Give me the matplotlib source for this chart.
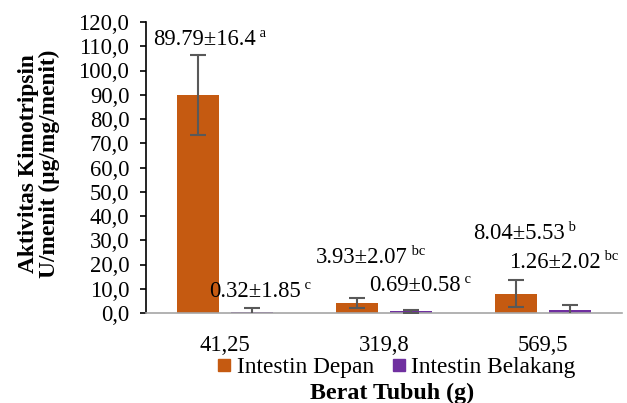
import matplotlib
matplotlib.use("Agg")
import matplotlib.pyplot as plt
import numpy as np
from matplotlib.lines import Line2D

# Data
categories = ["41,25", "319,8", "569,5"]
depan_mean = [89.79, 3.93, 8.04]
depan_sd = [16.4, 2.07, 5.53]
depan_sig = ["a", "bc", "b"]
belakang_mean = [0.32, 0.69, 1.26]
belakang_sd = [1.85, 0.58, 2.02]
belakang_sig = ["c", "c", "bc"]

yticks = np.arange(0, 121, 10)

plt.rcParams["font.family"] = ["Liberation Serif", "DejaVu Serif"]
FS = 16.3

orange = "#C55A11"
purple = "#7030A0"
err_col = "#595959"

fig = plt.figure(figsize=(6.27, 4.03), dpi=100)
ax = fig.add_axes([146 / 627, 1 - 313 / 403, 476 / 627, 291 / 403])

x = np.arange(len(categories))
w = 0.265
off = 0.17

ax.bar(x - off, depan_mean, w, color=orange, zorder=2)
ax.bar(x + off, belakang_mean, w, color=purple, zorder=2)
ax.errorbar(x - off, depan_mean, yerr=depan_sd, fmt="none", ecolor=err_col,
            elinewidth=1.5, capsize=6, capthick=1.5, zorder=3)
ax.errorbar(x + off, belakang_mean, yerr=belakang_sd, fmt="none", ecolor=err_col,
            elinewidth=1.5, capsize=6, capthick=1.5, zorder=3)

ax.set_xlim(-0.5, 2.5)
ax.set_ylim(0, 120)
ax.set_yticks(yticks)
ax.set_yticklabels([f"{v:.1f}".replace(".", ",") for v in yticks], fontsize=FS)
ax.set_xticks(x)
ax.set_xticklabels(categories, fontsize=FS)
ax.tick_params(axis="x", length=0, pad=16)
ax.tick_params(axis="y", length=4, width=1.2, direction="out", pad=8)

for s in ["top", "right"]:
    ax.spines[s].set_visible(False)
ax.spines["left"].set_color("black")
ax.spines["left"].set_linewidth(1.2)
ax.spines["bottom"].set_color("#A6A6A6")
ax.spines["bottom"].set_linewidth(1.2)

# Value labels (left edge x, vertical centre y in data units)
label_pos_depan = [(-0.454, 112.6), (0.573, 22.9), (1.561, 32.6)]
label_pos_belakang = [(-0.100, 8.9), (0.907, 11.3), (1.790, 20.8)]


def value_label(xy, mean, sd, sig):
    t = ax.text(xy[0], xy[1], f"{mean:.2f}±{sd:g}",
                fontsize=FS, ha="left", va="center", zorder=4)
    ax.annotate(" " + sig, xy=(1, 0.8), xycoords=t, fontsize=FS * 0.64,
                ha="left", va="center", zorder=4)


for xy, m, s, g in zip(label_pos_depan, depan_mean, depan_sd, depan_sig):
    value_label(xy, m, s, g)
for xy, m, s, g in zip(label_pos_belakang, belakang_mean, belakang_sd, belakang_sig):
    value_label(xy, m, s, g)

# Axis titles
fig.text(39 / 627, 1 - 164 / 403, "Aktivitas Kimotripsin\nU/menit (µg/mg/menit)",
         rotation=90, ha="center", va="center", fontsize=FS + 0.5, fontweight="bold",
         multialignment="center", linespacing=1.0)
fig.text(392 / 627, 1 - 393 / 403, "Berat Tubuh (g)", ha="center", va="center",
         fontsize=FS + 1, fontweight="bold")

handles = [Line2D([], [], marker="s", linestyle="none", markersize=9,
                  markerfacecolor=orange, markeredgecolor=orange),
           Line2D([], [], marker="s", linestyle="none", markersize=9,
                  markerfacecolor=purple, markeredgecolor=purple)]
fig.legend(handles, ["Intestin Depan", "Intestin Belakang"], loc="center",
           bbox_to_anchor=(397 / 627, 1 - 367 / 403), ncol=2, frameon=False,
           fontsize=FS + 0.5, handlelength=0.5, handletextpad=0.3, columnspacing=0.8,
           borderpad=0)

fig.savefig("out.png", dpi=100)
